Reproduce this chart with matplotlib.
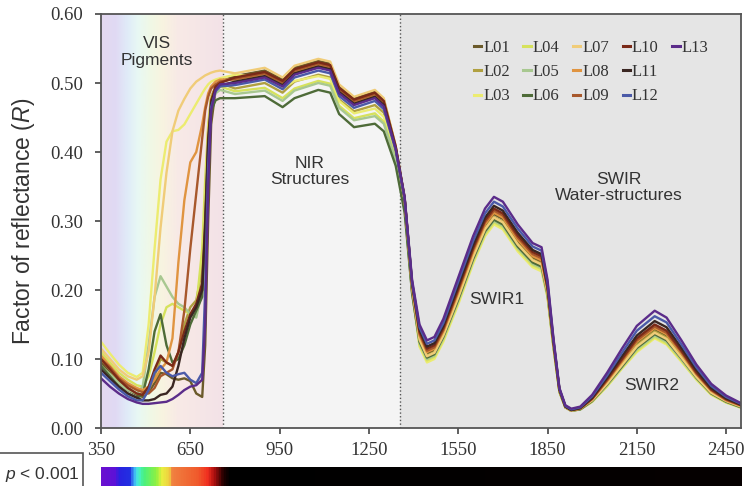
import numpy as np
import matplotlib.pyplot as plt
from matplotlib.colors import LinearSegmentedColormap
from matplotlib.patches import Rectangle
from matplotlib.lines import Line2D

plt.rcParams['font.family'] = ['Liberation Sans', 'DejaVu Sans']
plt.rcParams['mathtext.fontset'] = 'custom'
plt.rcParams['mathtext.rm'] = 'Liberation Sans'
plt.rcParams['mathtext.it'] = 'Liberation Sans:italic'

# wavelengths (nm): VIS part then NIR / SWIR part
wavelength = [350, 380, 410, 440, 470, 490, 510, 530, 550, 570, 590, 610, 630, 650, 670, 690, 700, 710, 720, 735, 750,
              800, 900, 960, 1000, 1080, 1120, 1150, 1200, 1270, 1300,
              1340, 1370, 1395, 1420, 1445, 1470, 1500, 1550, 1600, 1640,
              1670, 1700, 1750, 1800, 1830, 1850, 1870, 1890, 1910, 1930,
              1960, 2000, 2050, 2100, 2150, 2210, 2250, 2300, 2350, 2400,
              2450, 2500]

L01 = [0.095, 0.080, 0.065, 0.055, 0.048, 0.045, 0.052, 0.065, 0.080, 0.078, 0.072, 0.070, 0.072, 0.068, 0.050, 0.045, 0.120, 0.300, 0.440, 0.490, 0.502,
       0.510, 0.518, 0.505, 0.522, 0.532, 0.528, 0.495, 0.478, 0.488, 0.476,
       0.408, 0.332, 0.205, 0.132, 0.108, 0.113, 0.138, 0.194, 0.253, 0.293,
       0.310, 0.303, 0.271, 0.247, 0.241, 0.199, 0.122, 0.054, 0.030, 0.025,
       0.028, 0.041, 0.066, 0.094, 0.122, 0.142, 0.133, 0.106, 0.076, 0.053,
       0.040, 0.032]
L02 = [0.100, 0.085, 0.068, 0.058, 0.050, 0.048, 0.055, 0.075, 0.100, 0.095, 0.090, 0.110, 0.150, 0.175, 0.185, 0.230, 0.330, 0.430, 0.480, 0.495, 0.500,
       0.492, 0.500, 0.486, 0.502, 0.512, 0.508, 0.476, 0.459, 0.468, 0.457,
       0.396, 0.326, 0.202, 0.129, 0.105, 0.110, 0.135, 0.190, 0.249, 0.289,
       0.306, 0.299, 0.267, 0.244, 0.238, 0.197, 0.121, 0.054, 0.030, 0.025,
       0.028, 0.040, 0.065, 0.092, 0.120, 0.140, 0.131, 0.104, 0.075, 0.052,
       0.039, 0.031]
L03 = [0.125, 0.108, 0.092, 0.080, 0.074, 0.080, 0.150, 0.260, 0.360, 0.415, 0.430, 0.432, 0.440, 0.455, 0.470, 0.485, 0.492, 0.498, 0.502, 0.505, 0.507,
       0.512, 0.508, 0.492, 0.503, 0.510, 0.506, 0.474, 0.456, 0.463, 0.451,
       0.394, 0.322, 0.199, 0.118, 0.095, 0.100, 0.125, 0.179, 0.238, 0.278,
       0.295, 0.288, 0.256, 0.233, 0.227, 0.189, 0.116, 0.052, 0.030, 0.025,
       0.027, 0.038, 0.060, 0.086, 0.110, 0.130, 0.121, 0.096, 0.070, 0.048,
       0.037, 0.029]
L04 = [0.110, 0.095, 0.080, 0.070, 0.062, 0.060, 0.075, 0.110, 0.150, 0.175, 0.180, 0.175, 0.170, 0.165, 0.175, 0.260, 0.360, 0.440, 0.480, 0.490, 0.495,
       0.488, 0.493, 0.478, 0.492, 0.503, 0.499, 0.467, 0.449, 0.456, 0.444,
       0.390, 0.320, 0.198, 0.121, 0.098, 0.103, 0.128, 0.182, 0.241, 0.281,
       0.298, 0.291, 0.259, 0.236, 0.230, 0.191, 0.117, 0.052, 0.030, 0.025,
       0.027, 0.038, 0.061, 0.087, 0.112, 0.132, 0.123, 0.098, 0.071, 0.049,
       0.037, 0.030]
L05 = [0.090, 0.078, 0.065, 0.055, 0.050, 0.060, 0.120, 0.190, 0.220, 0.205, 0.190, 0.180, 0.175, 0.165, 0.160, 0.200, 0.300, 0.420, 0.470, 0.485, 0.490,
       0.484, 0.489, 0.474, 0.489, 0.500, 0.496, 0.464, 0.446, 0.452, 0.441,
       0.388, 0.318, 0.197, 0.123, 0.100, 0.105, 0.130, 0.184, 0.243, 0.283,
       0.300, 0.293, 0.261, 0.238, 0.232, 0.192, 0.118, 0.053, 0.030, 0.025,
       0.027, 0.039, 0.062, 0.088, 0.114, 0.134, 0.125, 0.099, 0.072, 0.050,
       0.038, 0.030]
L06 = [0.090, 0.075, 0.060, 0.050, 0.044, 0.048, 0.085, 0.140, 0.165, 0.120, 0.095, 0.100, 0.120, 0.150, 0.170, 0.190, 0.280, 0.400, 0.460, 0.475, 0.478,
       0.478, 0.481, 0.465, 0.478, 0.490, 0.486, 0.455, 0.436, 0.441, 0.430,
       0.380, 0.312, 0.195, 0.125, 0.102, 0.107, 0.132, 0.186, 0.245, 0.285,
       0.302, 0.295, 0.263, 0.240, 0.234, 0.194, 0.119, 0.053, 0.030, 0.025,
       0.027, 0.039, 0.063, 0.089, 0.116, 0.136, 0.127, 0.101, 0.073, 0.050,
       0.038, 0.030]
L07 = [0.115, 0.100, 0.085, 0.075, 0.070, 0.075, 0.110, 0.190, 0.290, 0.370, 0.430, 0.460, 0.477, 0.492, 0.502, 0.508, 0.511, 0.513, 0.515, 0.517, 0.518,
       0.514, 0.522, 0.508, 0.525, 0.535, 0.531, 0.498, 0.480, 0.490, 0.478,
       0.409, 0.331, 0.203, 0.128, 0.104, 0.109, 0.134, 0.189, 0.248, 0.288,
       0.305, 0.298, 0.266, 0.243, 0.237, 0.196, 0.120, 0.054, 0.030, 0.025,
       0.028, 0.040, 0.064, 0.091, 0.118, 0.138, 0.129, 0.102, 0.074, 0.051,
       0.039, 0.031]
L08 = [0.105, 0.090, 0.075, 0.065, 0.058, 0.055, 0.060, 0.070, 0.085, 0.095, 0.130, 0.240, 0.330, 0.385, 0.400, 0.440, 0.465, 0.485, 0.495, 0.502, 0.505,
       0.505, 0.513, 0.500, 0.516, 0.526, 0.522, 0.489, 0.472, 0.482, 0.470,
       0.404, 0.330, 0.206, 0.134, 0.110, 0.115, 0.140, 0.196, 0.255, 0.295,
       0.312, 0.305, 0.273, 0.249, 0.243, 0.200, 0.123, 0.055, 0.031, 0.026,
       0.028, 0.042, 0.068, 0.096, 0.125, 0.145, 0.136, 0.108, 0.078, 0.054,
       0.040, 0.032]
L09 = [0.100, 0.088, 0.072, 0.062, 0.055, 0.052, 0.050, 0.058, 0.075, 0.080, 0.085, 0.110, 0.170, 0.260, 0.340, 0.420, 0.460, 0.480, 0.492, 0.498, 0.502,
       0.506, 0.514, 0.501, 0.518, 0.528, 0.524, 0.491, 0.474, 0.484, 0.472,
       0.406, 0.332, 0.208, 0.137, 0.112, 0.117, 0.142, 0.199, 0.258, 0.298,
       0.315, 0.308, 0.276, 0.252, 0.246, 0.202, 0.124, 0.055, 0.031, 0.026,
       0.028, 0.042, 0.069, 0.098, 0.127, 0.147, 0.138, 0.110, 0.079, 0.055,
       0.041, 0.033]
L10 = [0.100, 0.085, 0.070, 0.058, 0.050, 0.048, 0.060, 0.085, 0.105, 0.095, 0.090, 0.110, 0.140, 0.165, 0.180, 0.210, 0.300, 0.420, 0.475, 0.495, 0.500,
       0.508, 0.516, 0.503, 0.520, 0.530, 0.526, 0.493, 0.476, 0.486, 0.474,
       0.408, 0.334, 0.210, 0.140, 0.115, 0.120, 0.145, 0.202, 0.261, 0.301,
       0.318, 0.311, 0.279, 0.255, 0.249, 0.204, 0.125, 0.056, 0.031, 0.026,
       0.029, 0.043, 0.071, 0.100, 0.130, 0.150, 0.141, 0.112, 0.081, 0.056,
       0.042, 0.033]
L11 = [0.085, 0.072, 0.060, 0.050, 0.044, 0.040, 0.040, 0.042, 0.048, 0.050, 0.060, 0.090, 0.130, 0.160, 0.175, 0.200, 0.290, 0.410, 0.470, 0.490, 0.496,
       0.502, 0.510, 0.497, 0.514, 0.524, 0.520, 0.487, 0.470, 0.480, 0.468,
       0.405, 0.333, 0.211, 0.143, 0.118, 0.123, 0.148, 0.206, 0.265, 0.305,
       0.322, 0.315, 0.283, 0.258, 0.252, 0.207, 0.126, 0.056, 0.031, 0.026,
       0.029, 0.044, 0.073, 0.104, 0.134, 0.155, 0.146, 0.116, 0.084, 0.058,
       0.043, 0.034]
L12 = [0.080, 0.068, 0.056, 0.046, 0.040, 0.040, 0.055, 0.080, 0.090, 0.080, 0.075, 0.078, 0.080, 0.070, 0.065, 0.080, 0.200, 0.380, 0.465, 0.488, 0.495,
       0.497, 0.505, 0.491, 0.508, 0.518, 0.514, 0.481, 0.464, 0.474, 0.462,
       0.402, 0.332, 0.212, 0.146, 0.122, 0.127, 0.152, 0.212, 0.271, 0.311,
       0.328, 0.321, 0.289, 0.263, 0.257, 0.211, 0.128, 0.057, 0.032, 0.027,
       0.030, 0.046, 0.076, 0.109, 0.141, 0.162, 0.153, 0.121, 0.088, 0.061,
       0.045, 0.035]
L13 = [0.072, 0.060, 0.050, 0.042, 0.037, 0.035, 0.035, 0.036, 0.037, 0.038, 0.042, 0.048, 0.055, 0.060, 0.062, 0.070, 0.150, 0.350, 0.460, 0.490, 0.498,
       0.500, 0.508, 0.495, 0.512, 0.522, 0.518, 0.485, 0.468, 0.478, 0.466,
       0.405, 0.335, 0.215, 0.150, 0.127, 0.132, 0.158, 0.218, 0.278, 0.318,
       0.335, 0.328, 0.295, 0.268, 0.262, 0.215, 0.130, 0.058, 0.033, 0.028,
       0.031, 0.048, 0.080, 0.115, 0.148, 0.170, 0.160, 0.127, 0.092, 0.064,
       0.047, 0.036]

names = ['L01', 'L02', 'L03', 'L04', 'L05', 'L06', 'L07', 'L08', 'L09', 'L10', 'L11', 'L12', 'L13']
series = [L01, L02, L03, L04, L05, L06, L07, L08, L09, L10, L11, L12, L13]
colors = ['#6b5a2a', '#b0a040', '#ecec70', '#d6e25c', '#a8c890', '#4e6b38', '#f0cc78',
          '#e09440', '#a8582c', '#7a2a18', '#3a2622', '#4b5aa8', '#5b2c8a']

vis_end = 760
nir_end = 1355

fig = plt.figure(figsize=(7.49, 4.86), dpi=100)
ax = fig.add_axes([101 / 749, 1 - 428 / 486, 640 / 749, 414 / 486])

# region backgrounds
vis_cmap = LinearSegmentedColormap.from_list('vis', [
    (0.00, '#e4d8f0'), (0.12, '#e0daf4'), (0.22, '#e0ecf8'), (0.30, '#e8f8f4'),
    (0.40, '#f0f8e6'), (0.50, '#f8f4e0'), (0.62, '#f8eae6'), (1.00, '#f3e2e8')])
ax.imshow(np.linspace(0, 1, 256)[None, :], cmap=vis_cmap, aspect='auto',
          extent=[350, vis_end, 0, 0.6], zorder=0)
ax.axvspan(vis_end, nir_end, color='#f4f4f4', zorder=0, lw=0)
ax.axvspan(nir_end, 2500, color='#e5e5e5', zorder=0, lw=0)
ax.axvline(vis_end, color='#555555', ls=':', lw=1, zorder=1)
ax.axvline(nir_end, color='#555555', ls=':', lw=1, zorder=1)

handles = []
for name, vals, col in zip(names, series, colors):
    ln, = ax.plot(wavelength, vals, color=col, lw=1.7, label=name, zorder=2)
    handles.append(ln)

ax.set_xlim(350, 2500)
ax.set_ylim(0, 0.6)
ax.set_xticks(np.arange(350, 2451, 300))
ax.set_yticks(np.arange(0, 0.61, 0.1))
ax.set_yticklabels(['%.2f' % v for v in np.arange(0, 0.61, 0.1)])
ax.tick_params(direction='out', length=4, width=1.2, color='#444444')
ax.tick_params(axis='y', pad=9)
ax.tick_params(axis='x', pad=6)
for lab in ax.get_xticklabels() + ax.get_yticklabels():
    lab.set_fontfamily('Liberation Serif')
    lab.set_fontsize(13.5)
    lab.set_color('#333333')
for sp in ax.spines.values():
    sp.set_color('#555555')
    sp.set_linewidth(1.3)

ax.set_ylabel('Factor of reflectance ($\\mathit{R}$)', fontsize=16.5, color='#333333')
ax.yaxis.set_label_coords(-0.10, 0.5)

txt = dict(ha='center', va='center', fontsize=12.5, color='#333333', linespacing=1.1)
ax.text(537, 0.545, 'VIS\nPigments', **txt)
ax.text(1050, 0.372, 'NIR\nStructures', **txt)
ax.text(2090, 0.348, 'SWIR\nWater-structures', **txt)
ax.text(1681, 0.186, 'SWIR1', **txt)
ax.text(2200, 0.062, 'SWIR2', **txt)

# two blank entries so the columns fill 3-3-3-3-1 like the original
blank = Line2D([], [], color='none')
leg = ax.legend(handles + [blank, blank], names + ['', ''], ncol=5, loc='upper right',
                bbox_to_anchor=(0.962, 0.958), frameon=False, borderpad=0,
                handlelength=0.45, handletextpad=0.12, columnspacing=0.8, labelspacing=0.5,
                prop={'family': 'Liberation Serif', 'size': 12})
for t in leg.get_texts():
    t.set_color('#333333')
for h in leg.get_lines():
    h.set_linewidth(2.2)

# wavelength colour bar under the axis
bar_cmap = LinearSegmentedColormap.from_list('bar', [
    (0.000, '#6a10d0'), (0.021, '#5c12d8'), (0.026, '#2a22e0'), (0.044, '#2230e2'),
    (0.050, '#40b0f8'), (0.056, '#48f0d8'), (0.065, '#48f080'), (0.085, '#90f040'),
    (0.093, '#e8f040'), (0.105, '#f0d040'), (0.110, '#f08040'), (0.150, '#f05a2c'),
    (0.165, '#f03020'), (0.175, '#b01010'), (0.190, '#200000'), (0.200, '#000000'),
    (1.000, '#060000')])
cax = fig.add_axes([101 / 749, 0, 640 / 749, 19 / 486])
cax.imshow(np.linspace(0, 1, 1024)[None, :], cmap=bar_cmap, aspect='auto', extent=[0, 1, 0, 1])
cax.axis('off')

fig.patches.append(Rectangle((-0.01, -0.05), 83 / 749 + 0.01, 0.05 + 1 - 453 / 486,
                             transform=fig.transFigure, fill=False, ec='#555555', lw=1.2))
fig.text(5 / 749, 1 - 474 / 486, '$\\mathit{p}$ < 0.001', fontsize=12.5, color='#333333',
         ha='left', va='center')

fig.savefig('out.png', dpi=100)
